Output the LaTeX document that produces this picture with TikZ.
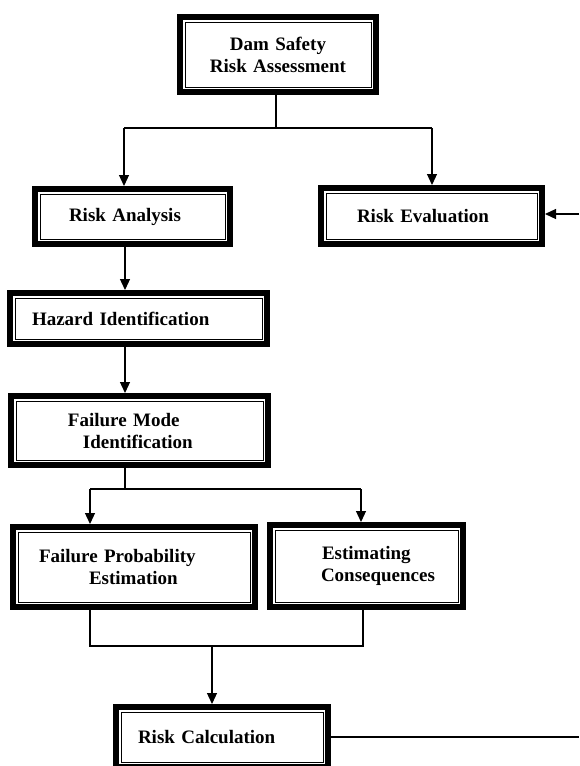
\documentclass[tikz,border=0pt]{standalone}
\usepackage{fontspec}
\setmainfont{Liberation Serif}
\usetikzlibrary{arrows.meta,calc}
\tikzset{
  dbox/.style={draw, line width=6pt, outer sep=3pt, inner xsep=0pt, inner ysep=0pt,
    fill=white, align=left,
    font=\bfseries\fontsize{19}{22}\selectfont,
    path picture={\draw[line width=1pt] ([shift={(5pt,-5pt)}]path picture bounding box.north west) rectangle ([shift={(-5pt,5pt)}]path picture bounding box.south east);}},
  conn/.style={line width=1.2pt},
  arr/.style={line width=1.2pt, -{Triangle[width=10pt,length=11pt]}}
}
\begin{document}
\begin{tikzpicture}[x=1pt,y=-1pt]
\useasboundingbox (0,0) rectangle (579,766);
\clip (0,0) rectangle (579,766);
% boxes
\node[dbox, minimum width=196pt, minimum height=75pt, text width=196pt, align=center] (D) at (278,54.5) {Dam Safety\\Risk Assessment};
\node[dbox, minimum width=195pt, minimum height=55pt, text width=195pt] (RA) at (132.5,216.5) {\hspace*{34pt}Risk Analysis};
\node[dbox, minimum width=221pt, minimum height=56pt, text width=221pt] (RE) at (431.5,216) {\hspace*{36pt}Risk Evaluation};
\node[dbox, minimum width=257pt, minimum height=51pt, text width=257pt] (HZ) at (138.5,318.5) {\hspace*{22pt}Hazard Identification};
\node[dbox, minimum width=257pt, minimum height=69pt, text width=257pt] (FM) at (139.5,430.5) {\hspace*{57pt}Failure Mode\\\hspace*{72pt}Identification};
\node[dbox, minimum width=242pt, minimum height=80pt, text width=242pt] (FP) at (134,567) {\hspace*{26pt}Failure Probability\\\hspace*{76pt}Estimation};
\node[dbox, minimum width=193pt, minimum height=82pt, text width=193pt] (EC) at (366.5,566) {\hspace*{52pt}Estimating\\\hspace*{51pt}Consequences};
\node[dbox, minimum width=212pt, minimum height=60pt, text width=212pt] (RC) at (222,737) {\hspace*{22pt}Risk Calculation};
% junction coordinates
\coordinate (j1) at (276,128);
\coordinate (a1) at (124,128);
\coordinate (a2) at (432,128);
\coordinate (xa) at (125,250);
\coordinate (j2) at (125,489);
\coordinate (b1) at (90,489);
\coordinate (b2) at (361,489);
\coordinate (m1) at (90,646);
\coordinate (m2) at (363,646);
\coordinate (m3) at (212,646);
\coordinate (e1) at (579,737);
\coordinate (e2) at (579,214);
% connectors
\draw[conn] (j1 |- D.south) -- (j1);
\draw[conn] (a1) -- (a2);
\draw[arr] (a1) -- (a1 |- RA.north);
\draw[arr] (a2) -- (a2 |- RE.north);
\draw[arr] (xa |- RA.south) -- (xa |- HZ.north);
\draw[arr] (xa |- HZ.south) -- (xa |- FM.north);
\draw[conn] (xa |- FM.south) -- (j2);
\draw[conn] (b1) -- (b2);
\draw[arr] (b1) -- (b1 |- FP.north);
\draw[arr] (b2) -- (b2 |- EC.north);
\draw[conn] (m1 |- FP.south) -- (m1) -- (m2) -- (m2 |- EC.south);
\draw[arr] (m3) -- (m3 |- RC.north);
\draw[conn] (RC.east) -- (e1);
\draw[arr] (e2) -- (e2 -| RE.east);
\end{tikzpicture}
\end{document}
